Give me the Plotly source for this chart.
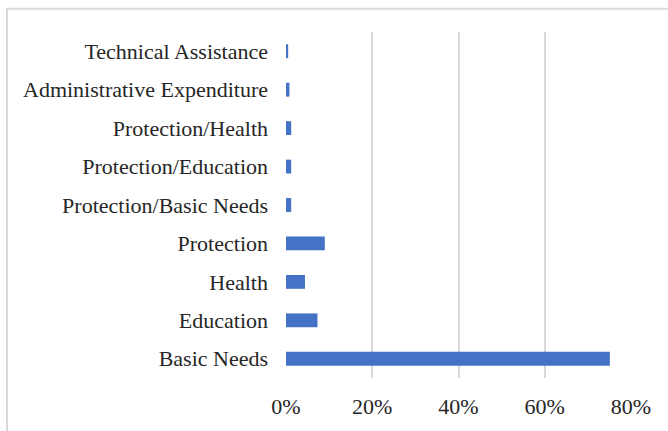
import plotly.graph_objects as go

# Funding share by sector (fraction of total)
categories = [
    "Basic Needs",
    "Education",
    "Health",
    "Protection",
    "Protection/Basic Needs",
    "Protection/Education",
    "Protection/Health",
    "Administrative Expenditure",
    "Technical Assistance",
]
shares = [0.751, 0.073, 0.044, 0.090, 0.012, 0.012, 0.012, 0.008, 0.005]
tick_values = [0, 0.2, 0.4, 0.6, 0.8]
tick_labels = ["0%", "20%", "40%", "60%", "80%"]

FONT = "'Liberation Serif', 'Times New Roman', serif"
GRID = "#d9d9d9"
tick_font = dict(family=FONT, size=22, color="#262626")

fig = go.Figure(
    go.Bar(
        x=shares,
        y=categories,
        orientation="h",
        marker=dict(color="#4472c4", line=dict(width=0)),
        width=0.36,
    )
)

fig.update_layout(
    width=668,
    height=431,
    margin=dict(l=286, r=37, t=31.5, b=49.5),
    paper_bgcolor="white",
    plot_bgcolor="white",
    showlegend=False,
    font=tick_font,
    xaxis=dict(
        range=[0, 0.8],
        tickvals=tick_values,
        ticktext=tick_labels,
        tickfont=tick_font,
        showgrid=True,
        gridcolor=GRID,
        gridwidth=2,
        zeroline=False,
        showline=False,
        ticks="",
        ticklabelstandoff=13,
        fixedrange=True,
    ),
    yaxis=dict(
        categoryorder="array",
        categoryarray=categories,
        range=[-0.5, 8.5],
        tickfont=tick_font,
        showgrid=False,
        zeroline=False,
        showline=False,
        ticks="",
        ticklabelstandoff=17,
        fixedrange=True,
    ),
    shapes=[
        # outer chart frame
        dict(
            type="rect",
            xref="paper",
            yref="paper",
            x0=-0.8087,
            x1=1.3,
            y0=-0.3,
            y1=1.0671,
            line=dict(color=GRID, width=2),
            fillcolor="rgba(0,0,0,0)",
            layer="below",
        ),
    ],
)

fig.write_html("out.html")
